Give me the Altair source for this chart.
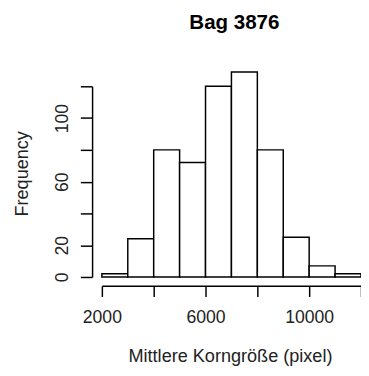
import altair as alt
import pandas as pd

bin_start = [2000, 3000, 4000, 5000, 6000, 7000, 8000, 9000, 10000, 11000]
bin_end = [3000, 4000, 5000, 6000, 7000, 8000, 9000, 10000, 11000, 12000]
counts = [2, 24, 80, 72, 120, 129, 80, 25, 7, 2]
x_ticks = [2000, 4000, 6000, 8000, 10000, 12000]
y_ticks = [0, 20, 40, 60, 80, 100, 120]

df = pd.DataFrame({"start": bin_start, "end": bin_end, "count": counts})

FONT = "Liberation Sans"

chart = (
    alt.Chart(df)
    .mark_bar(fill="white", stroke="black", strokeWidth=1.5)
    .encode(
        x=alt.X(
            "start:Q",
            scale=alt.Scale(domain=[2000, 12000], nice=False, zero=False),
            axis=alt.Axis(
                title="Mittlere Korngröße (pixel)",
                values=x_ticks,
                labelExpr="(datum.value == 4000 || datum.value == 8000 || datum.value == 12000) ? '' : datum.label",
                format="d",
                offset=9,
                tickSize=11,
                labelPadding=27,
                labelBaseline="alphabetic",
                labelFlush=False,
                labelOverlap=False,
                titleX=131,
                titleY=77,
                titleAlign="center",
                titleBaseline="alphabetic",
            ),
        ),
        x2="end:Q",
        y=alt.Y(
            "count:Q",
            scale=alt.Scale(domain=[0, 120], nice=False),
            axis=alt.Axis(
                title="Frequency",
                values=y_ticks,
                labelExpr="(datum.value == 40 || datum.value == 80 || datum.value == 120) ? '' : datum.label",
                offset=10,
                tickSize=12,
                labelAngle=-90,
                labelAlign="center",
                labelBaseline="alphabetic",
                labelPadding=13,
                labelOverlap=False,
                labelFlush=False,
                titleAngle=-90,
                titleX=-72,
                titleY=89,
                titleAlign="center",
                titleBaseline="middle",
            ),
        ),
        y2=alt.datum(0),
    )
    .properties(
        width=265,
        height=195,
        autosize=alt.AutoSizeParams(type="none"),
        padding={"left": 96, "top": 76, "right": 0, "bottom": 89},
        title=alt.TitleParams(
            "Bag 3876",
            fontSize=21,
            fontWeight="bold",
            font=FONT,
            color="black",
            anchor="middle",
            baseline="alphabetic",
            offset=22,
            dx=3,
        ),
    )
    .configure_view(strokeWidth=0)
    .configure_axis(
        grid=False,
        domainColor="black",
        domainWidth=1.5,
        tickColor="black",
        tickWidth=1.5,
        labelFont=FONT,
        labelFontSize=18,
        labelColor="#222222",
        titleFont=FONT,
        titleFontSize=18.5,
        titleFontWeight="normal",
        titleColor="#222222",
    )
)

chart.save("out.html", embed_options={"renderer": "svg", "actions": False})
